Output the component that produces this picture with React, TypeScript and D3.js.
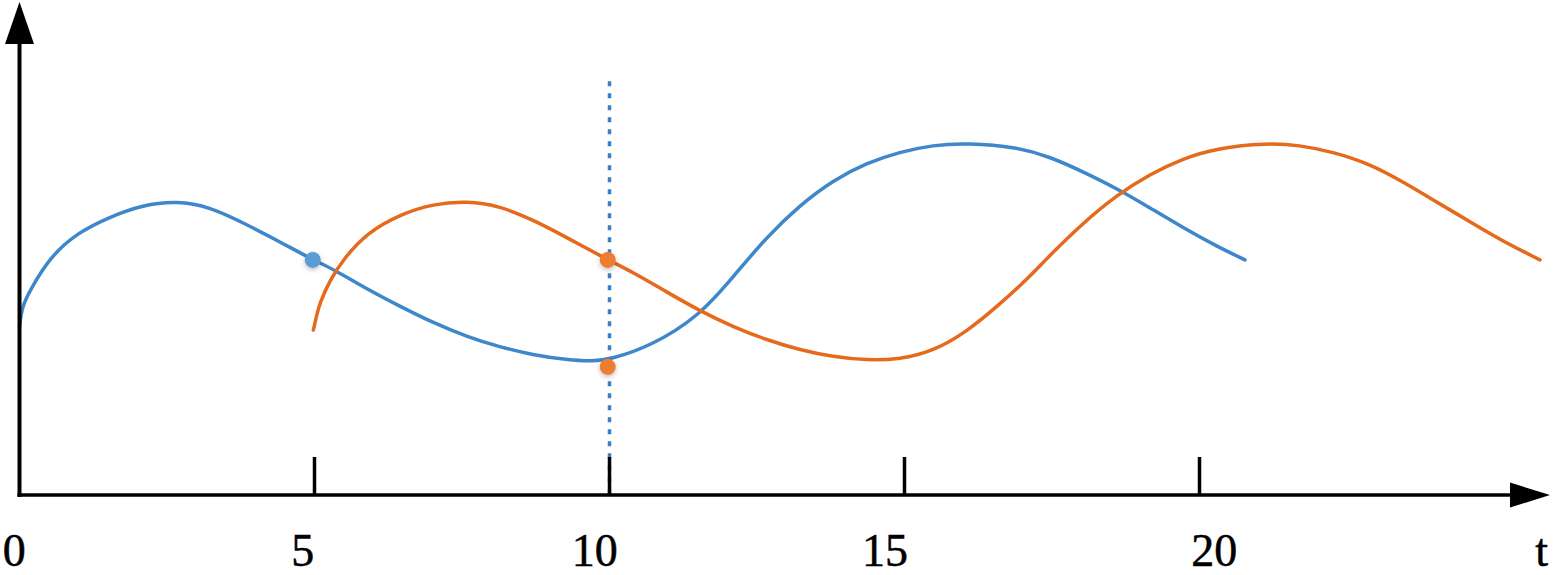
import React from "react";
import * as d3 from "d3";

const W = 1559;
const H = 575;

// Blue series: [t, value]
const blueT = [0, 0.04, 0.18, 0.52, 0.97, 1.53, 2.09, 2.67, 3.23, 3.79, 4.36, 4.97, 5.31, 5.89, 6.47, 7.01, 7.58, 8.14, 8.7, 9.28, 9.72, 10.01, 10.69, 11.53, 12.09, 12.67, 13.23, 13.79, 14.36, 14.92, 15.48, 16.06, 16.91, 17.47, 18.03, 18.65, 19.16, 19.72, 20.3, 20.77];
const blueV = [3.39, 3.8, 4.14, 4.81, 5.29, 5.62, 5.86, 5.94, 5.82, 5.5, 5.15, 4.75, 4.57, 4.16, 3.8, 3.48, 3.2, 2.99, 2.83, 2.73, 2.7, 2.74, 3.0, 3.62, 4.4, 5.22, 5.86, 6.36, 6.71, 6.93, 7.07, 7.11, 7.03, 6.83, 6.53, 6.16, 5.8, 5.4, 5.02, 4.75];

// Orange series
const orangeT = [4.98, 5.04, 5.09, 5.26, 5.5, 5.89, 6.47, 7.01, 7.58, 8.14, 8.7, 9.28, 9.97, 10.4, 10.97, 11.53, 12.09, 12.67, 13.23, 13.79, 14.36, 14.92, 15.48, 16.06, 16.62, 17.08, 17.47, 18.03, 18.6, 19.16, 19.72, 20.3, 21.14, 21.69, 22.26, 22.84, 23.4, 23.96, 24.53, 25.09, 25.77];
const orangeV = [3.33, 3.65, 3.88, 4.34, 4.78, 5.3, 5.68, 5.88, 5.94, 5.84, 5.56, 5.2, 4.75, 4.5, 4.1, 3.72, 3.4, 3.13, 2.93, 2.79, 2.72, 2.74, 2.9, 3.3, 3.86, 4.36, 4.85, 5.5, 6.06, 6.48, 6.8, 7.01, 7.11, 7.07, 6.93, 6.71, 6.36, 5.96, 5.56, 5.16, 4.75];

// Highlighted points
const blueDots = [[4.97, 4.75]];
const orangeDots = [[9.97, 4.75], [9.97, 2.59]];

// Vertical dotted marker
const markerT = 10;
const markerTop = 8.36;

// X ticks and labels
const tickValues = [5, 10, 15, 20];
const labelText = ["0", "5", "10", "15", "20", "t"];
const labelPos = [-0.09, 4.8, 9.75, 14.67, 20.25, 25.8];

const xMax = 26;
const yMax = 10;

export default function App() {
  const x = d3.scaleLinear().domain([0, xMax]).range([19.5, 19.5 + 59 * xMax]);
  const y = d3.scaleLinear().domain([0, yMax]).range([495, 0]);

  const line = d3
    .line<[number, number]>()
    .x((d) => x(d[0]))
    .y((d) => y(d[1]))
    .curve(d3.curveBasis);

  const blueData = blueT.map((t, i) => [t, blueV[i]] as [number, number]);
  const orangeData = orangeT.map((t, i) => [t, orangeV[i]] as [number, number]);

  const x0 = x(0);
  const y0 = y(0);
  const axisEndX = 1550;
  const axisTopY = 2;

  return (
    <svg
      width={W}
      height={H}
      style={{ position: "absolute", left: 0, top: 0, background: "#fff" }}
    >
      <defs>
        <filter id="glow" x="-100%" y="-100%" width="300%" height="300%">
          <feDropShadow dx="0" dy="2" stdDeviation="2.5" floodColor="#000" floodOpacity="0.25" />
        </filter>
      </defs>
      <rect x={0} y={0} width={W} height={H} fill="#fff" />

      {/* curves */}
      <path d={line(blueData) || ""} fill="none" stroke="#3D87CA" strokeWidth={3.5} strokeLinecap="round" />
      <path d={line(orangeData) || ""} fill="none" stroke="#E56A1C" strokeWidth={3.5} strokeLinecap="round" />

      {/* vertical dotted marker */}
      <line
        x1={x(markerT)}
        x2={x(markerT)}
        y1={y(markerTop)}
        y2={y0}
        stroke="#3A80C3"
        strokeWidth={3.5}
        strokeDasharray="5 7"
        strokeLinecap="butt"
      />

      {/* axes */}
      <line x1={x0} x2={x0} y1={y0 + 2} y2={40} stroke="#000" strokeWidth={4} />
      <path d={`M${x0},${axisTopY} L${x0 - 14.5},44 L${x0 + 14.5},44 Z`} fill="#000" />
      <line x1={x0 - 2} x2={1515} y1={y0} y2={y0} stroke="#000" strokeWidth={3.5} />
      <path d={`M${axisEndX},${y0} L1510,${y0 - 12.5} L1510,${y0 + 12.5} Z`} fill="#000" />

      {tickValues.map((t) => (
        <line key={t} x1={x(t)} x2={x(t)} y1={457} y2={y0} stroke="#000" strokeWidth={3.5} />
      ))}

      {labelText.map((s, i) => (
        <text
          key={s}
          x={x(labelPos[i])}
          y={566}
          textAnchor="middle"
          fontFamily="'Liberation Serif', 'Times New Roman', serif"
          fontSize={46}
          fill="#000"
          stroke="#000"
          strokeWidth={0.5}
        >
          {s}
        </text>
      ))}

      {/* dots */}
      {blueDots.map((d, i) => (
        <circle key={"b" + i} cx={x(d[0])} cy={y(d[1])} r={8} fill="#5B9BD5" filter="url(#glow)" />
      ))}
      {orangeDots.map((d, i) => (
        <circle key={"o" + i} cx={x(d[0])} cy={y(d[1])} r={8} fill="#ED7D31" filter="url(#glow)" />
      ))}
    </svg>
  );
}
